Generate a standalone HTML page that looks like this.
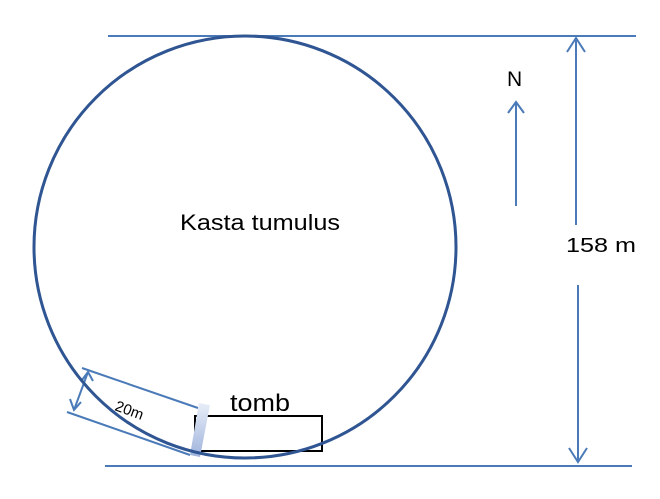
<!DOCTYPE html>
<html><head><style>body{margin:0;background:#fff}</style></head><body>
<svg width="660" height="494" xmlns="http://www.w3.org/2000/svg" font-family="Liberation Sans, sans-serif">
<defs>
<linearGradient id="g" x1="0" y1="0" x2="0" y2="1"><stop offset="0" stop-color="#e8eef8"/><stop offset="1" stop-color="#9fb3dc"/></linearGradient>
</defs>
<g stroke="#4a7ab8" stroke-width="2" fill="none">
<line x1="108" y1="36" x2="636" y2="36"/>
<line x1="105" y1="466" x2="632" y2="466"/>
<line x1="576" y1="38" x2="576" y2="225"/>
<polyline points="567,52 576,38 585,52"/>
<line x1="578" y1="285" x2="578" y2="462"/>
<polyline points="569,448 578,462 587,448"/>
<line x1="516" y1="206" x2="516" y2="102"/>
<polyline points="508,113 516,102 524,113"/>
<line x1="82" y1="368" x2="198" y2="408"/>
<line x1="67" y1="412" x2="190" y2="455"/>
<line x1="88" y1="372" x2="74" y2="410"/>
<polyline points="82,380 88,372 93,381"/>
<polyline points="70,399 74,410 81,402"/>
</g>
<rect x="195" y="416" width="127" height="35" fill="none" stroke="#000" stroke-width="2"/>
<polygon points="199,403 210,405 200,457 190,455" fill="url(#g)"/>
<circle cx="245" cy="247" r="211" fill="none" stroke="#2f5592" stroke-width="3"/>
<text x="180" y="230" font-size="22" fill="#000" textLength="160" lengthAdjust="spacingAndGlyphs">Kasta tumulus</text>
<text x="507" y="86" font-size="21" fill="#000">N</text>
<text x="566" y="252" font-size="20" fill="#000" textLength="70" lengthAdjust="spacingAndGlyphs">158 m</text>
<text x="230" y="411" font-size="24" fill="#000" textLength="60" lengthAdjust="spacingAndGlyphs">tomb</text>
<text x="114" y="410" font-size="15" fill="#000" transform="rotate(20 114 410)">20m</text>
</svg>
</body></html>
